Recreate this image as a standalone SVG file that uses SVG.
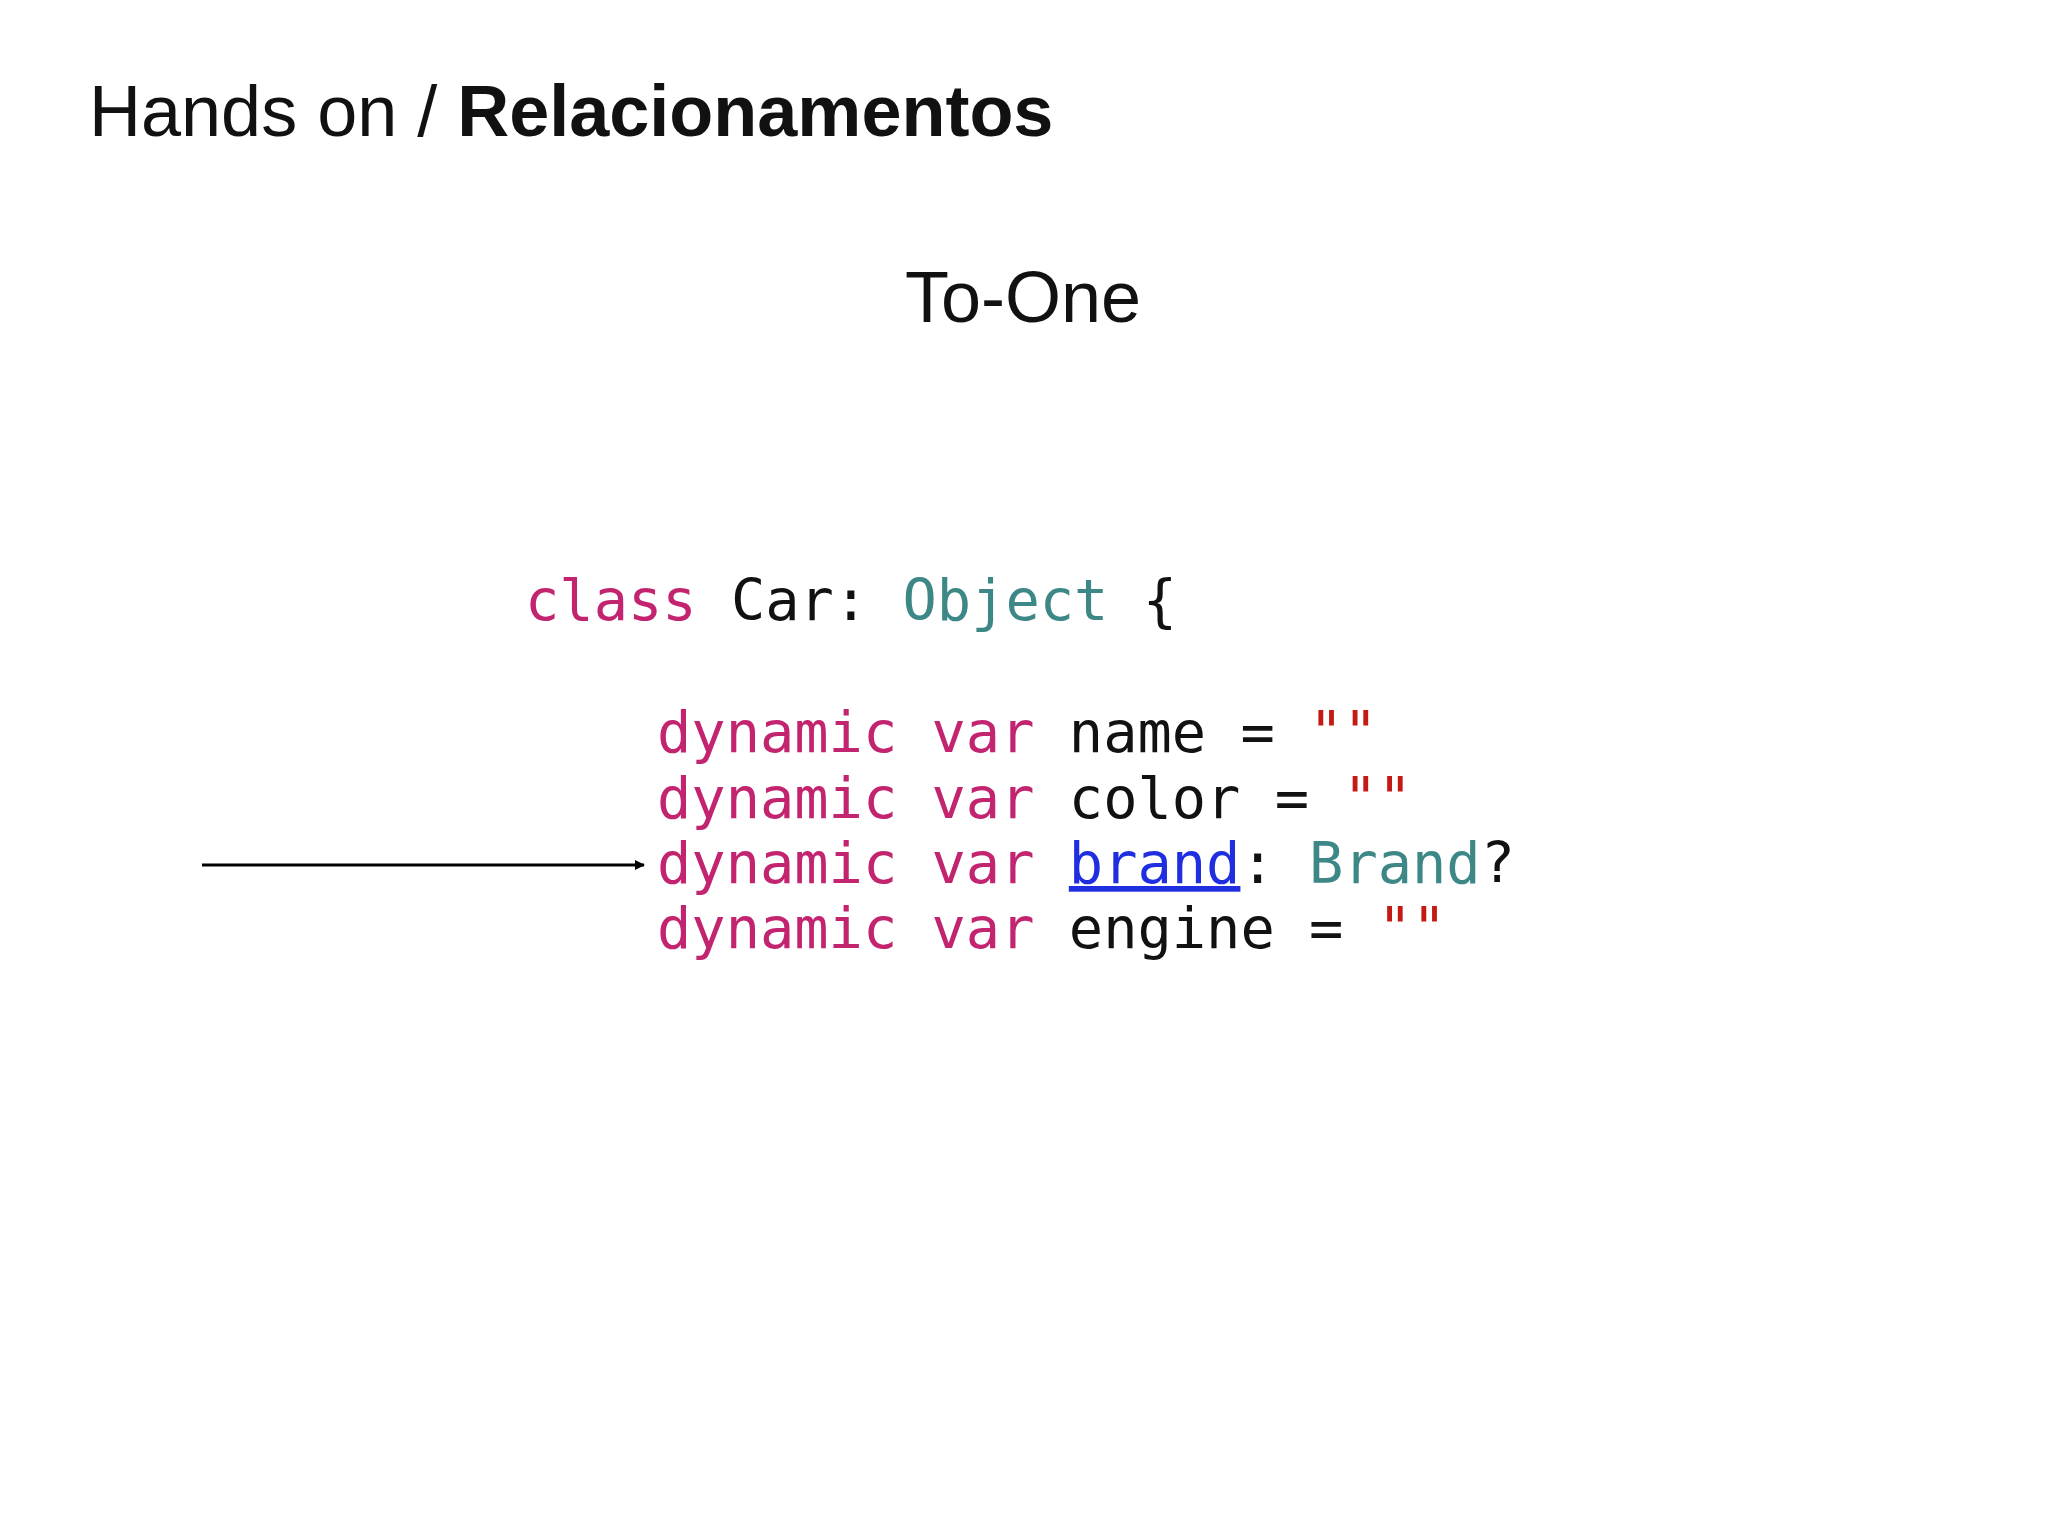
<svg xmlns="http://www.w3.org/2000/svg" width="2048" height="1536" viewBox="0 0 2048 1536">
<style>
.t{font-family:"Liberation Sans",Arial,sans-serif;font-size:72px;fill:#111}
.c{font-family:"DejaVu Sans Mono",monospace;font-size:57px;fill:#111}
.k{fill:#c2246f}.ty{fill:#3d8787}.s{fill:#c41a16}.l{fill:#1f2fe0;text-decoration:underline}
</style>
<defs><marker id="a" markerWidth="10" markerHeight="10" refX="9" refY="5" orient="auto" markerUnits="userSpaceOnUse"><path d="M0,0L10,5L0,10z" fill="#000"/></marker></defs>
<rect width="2048" height="1536" fill="#fff"/>
<g id="title"><text class="t" x="89" y="136">Hands on / <tspan font-weight="bold">Relacionamentos</tspan></text></g>
<g id="subtitle"><text class="t" x="1023" y="322" text-anchor="middle">To-One</text></g>
<g id="code">
<text class="c" x="525" y="620" xml:space="preserve"><tspan class="k">class</tspan> Car: <tspan class="ty">Object</tspan> {</text>
<text class="c" x="657" y="752" xml:space="preserve"><tspan class="k">dynamic var</tspan> name = <tspan class="s">""</tspan></text>
<text class="c" x="657" y="818" xml:space="preserve"><tspan class="k">dynamic var</tspan> color = <tspan class="s">""</tspan></text>
<text class="c" x="657" y="883" xml:space="preserve"><tspan class="k">dynamic var</tspan> <tspan class="l">brand</tspan>: <tspan class="ty">Brand</tspan>?</text>
<text class="c" x="657" y="948" xml:space="preserve"><tspan class="k">dynamic var</tspan> engine = <tspan class="s">""</tspan></text>
</g>
<g id="connectors"><line x1="202" y1="865" x2="644" y2="865" stroke="#000" stroke-width="3" marker-end="url(#a)"/></g>
</svg>
